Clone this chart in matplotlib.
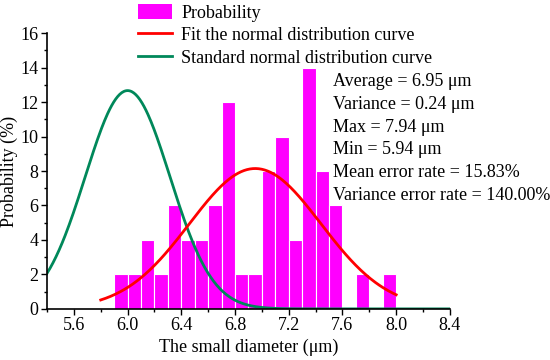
import numpy as np
import matplotlib
matplotlib.use("Agg")
import matplotlib.pyplot as plt
from matplotlib.patches import Patch
from matplotlib.lines import Line2D

plt.rcParams['font.family'] = ['Liberation Serif', 'DejaVu Serif']

# Histogram data (bin left edges, width 0.1 μm) and probabilities (%)
bin_left = [5.9, 6.0, 6.1, 6.2, 6.3, 6.4, 6.5, 6.6, 6.7, 6.8, 6.9,
            7.0, 7.1, 7.2, 7.3, 7.4, 7.5, 7.6, 7.7, 7.8, 7.9]
probability = [2, 2, 4, 2, 6, 4, 4, 6, 12, 2, 2,
               8, 10, 4, 14, 8, 6, 0, 2, 0, 2]
bin_width = 0.1

# Fitted normal curve parameters (from chart annotations)
fit_mean = 6.95
fit_variance = 0.24
fit_range = (5.8, 8.0)

# Standard normal distribution curve parameters
std_mean = 6.0
std_sigma = 0.315
std_range = (5.4, 8.4)

stats_text = ["Average = 6.95 μm",
              "Variance = 0.24 μm",
              "Max = 7.94 μm",
              "Min = 5.94 μm",
              "Mean error rate = 15.83%",
              "Variance error rate = 140.00%"]

x_ticks = [5.6, 6.0, 6.4, 6.8, 7.2, 7.6, 8.0, 8.4]
y_ticks = [0, 2, 4, 6, 8, 10, 12, 14, 16]

bar_color = '#FF00FF'
red = '#FF0000'
green = '#00885A'

def normal_pct(x, mu, sigma, width):
    return 100 * width * np.exp(-(x - mu) ** 2 / (2 * sigma ** 2)) / (sigma * np.sqrt(2 * np.pi))

fig = plt.figure(figsize=(5.5, 3.6), dpi=100)
ax = fig.add_axes([0.0855, 0.142, 0.7325, 0.766])

ax.bar(bin_left, probability, width=bin_width, align='edge',
       color=bar_color, edgecolor='white', linewidth=0.8, zorder=1)

xf = np.linspace(fit_range[0], fit_range[1], 300)
ax.plot(xf, normal_pct(xf, fit_mean, np.sqrt(fit_variance), bin_width),
        color=red, lw=2, zorder=3)

xs = np.linspace(std_range[0], std_range[1], 400)
ax.plot(xs, normal_pct(xs, std_mean, std_sigma, bin_width),
        color=green, lw=2, zorder=2)

ax.set_xlim(5.4, 8.4)
ax.set_ylim(0, 16)
ax.set_xticks(x_ticks)
ax.set_xticklabels([f"{v:.1f}" for v in x_ticks])
ax.set_yticks(y_ticks)
ax.set_xticks(np.arange(5.4, 8.41, 0.2), minor=True)
ax.set_yticks(np.arange(0, 16.1, 1), minor=True)
ax.tick_params(axis='both', which='major', direction='out', length=4, width=1,
               labelsize=13, colors='black', pad=2)
ax.tick_params(axis='both', which='minor', direction='out', length=2, width=1)
for s in ['top', 'right']:
    ax.spines[s].set_visible(False)
for s in ['left', 'bottom']:
    ax.spines[s].set_linewidth(1.2)

ax.set_xlabel("The small diameter (μm)", fontsize=13, labelpad=3)
ax.set_ylabel("Probability (%)", fontsize=13, labelpad=2)

handles = [Patch(facecolor=bar_color, edgecolor='none'),
           Line2D([0], [0], color=red, lw=2),
           Line2D([0], [0], color=green, lw=2)]
labels = ["Probability", "Fit the normal distribution curve",
          "Standard normal distribution curve"]
fig.legend(handles, labels, loc='upper left', bbox_to_anchor=(0.228, 1.023),
           frameon=False, fontsize=13, handlelength=1.9, handleheight=0.9,
           handletextpad=0.5, labelspacing=0.25, borderpad=0.2)

y0 = 82
for i, t in enumerate(stats_text):
    fig.text(333 / 550, 1 - (y0 + i * 22.6) / 360, t, fontsize=13,
             ha='left', va='center')

fig.savefig("out.png", dpi=100)
